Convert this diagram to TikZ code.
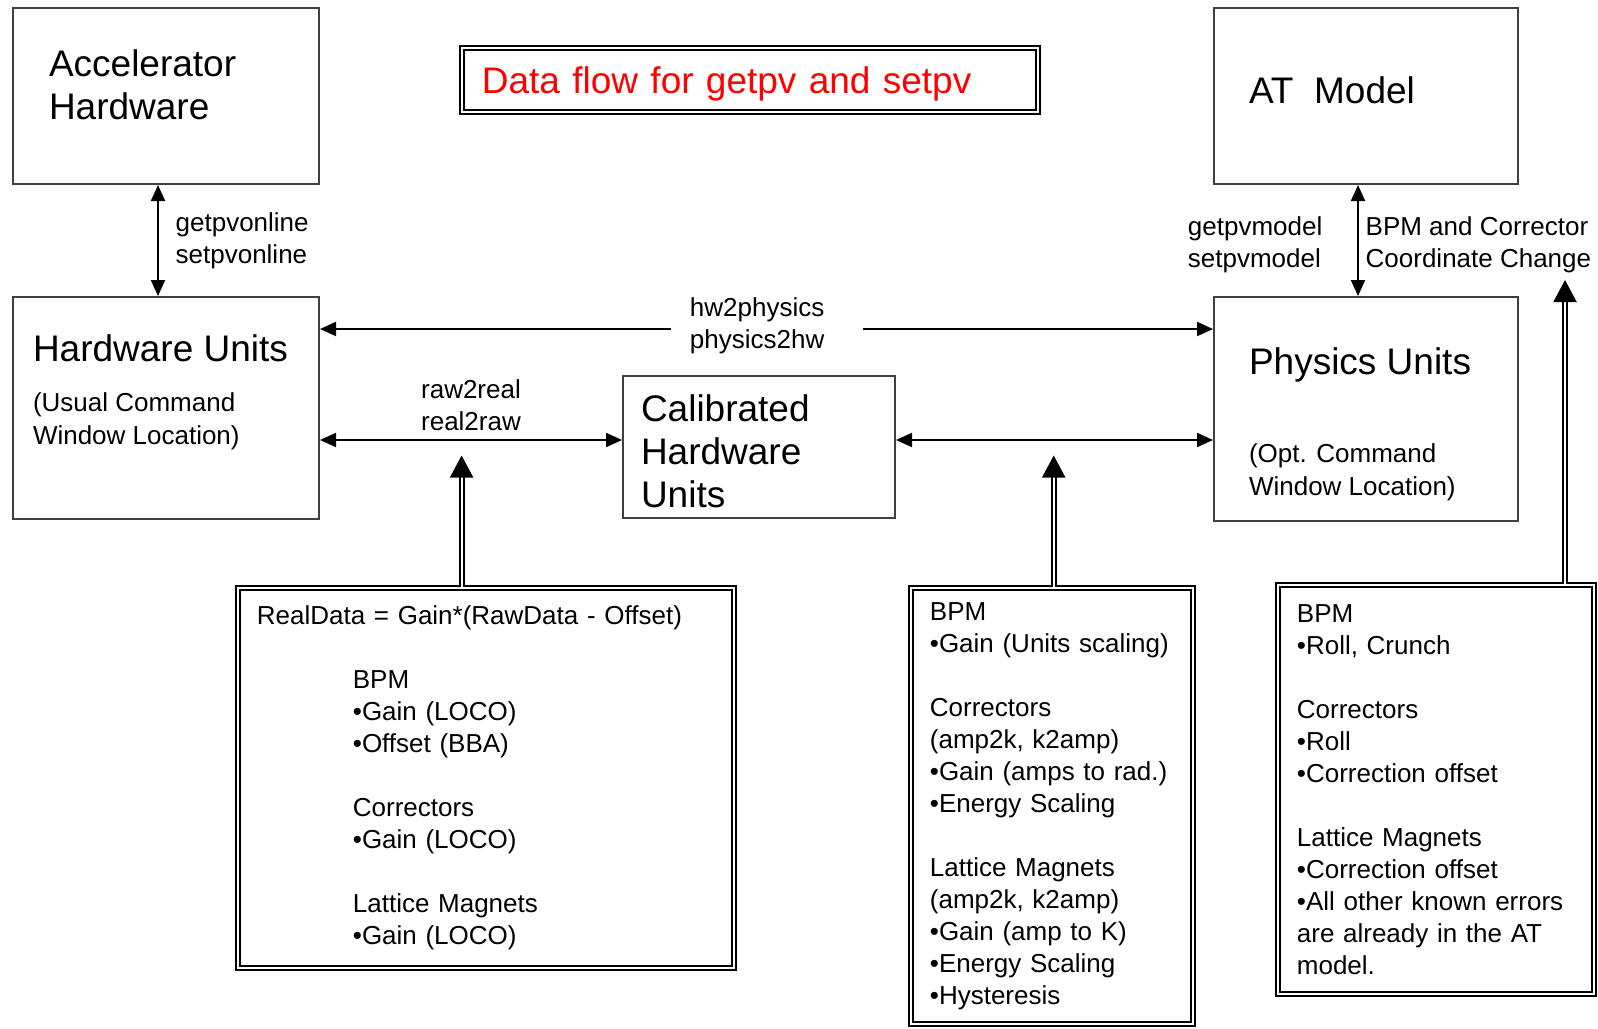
\documentclass[tikz,border=0pt]{standalone}
\usepackage{fontspec}
\setmainfont{Liberation Sans}
\usetikzlibrary{arrows.meta, positioning}

\newcommand{\ind}{\hspace*{48pt}}

\begin{document}
\begin{tikzpicture}[
    x=0.5pt, y=-0.5pt,
    >={Triangle[length=8pt, width=7pt]},
    line width=1pt,
    box/.style={
        draw=black!75,
        anchor=north west,
        inner sep=0pt
    },
    dbox/.style={
        draw,
        double,
        double distance=1.2pt,
        line width=0.9pt,
        anchor=north west,
        align=left,
        inner xsep=9.5pt,
        text width=#1,
        font=\fontsize{13pt}{16pt}\selectfont
    },
    big/.style={
        anchor=north west,
        inner sep=0pt,
        align=left,
        font=\fontsize{18.5pt}{21.5pt}\selectfont
    },
    small/.style={
        anchor=north west,
        inner sep=0pt,
        align=left,
        font=\fontsize{13pt}{16.2pt}\selectfont
    },
    lbl/.style={
        align=left,
        font=\fontsize{13pt}{16pt}\selectfont
    },
    feed/.style={
        double,
        double distance=1pt,
        -{Triangle[length=11pt, width=11.5pt]}
    }
]
\useasboundingbox (0,0) rectangle (1598,1028);

% unit boxes
\node[box, minimum width=153pt, minimum height=88pt] (acc) at (12,7) {};
\node[box, minimum width=153pt, minimum height=111pt] (hwu) at (12,296) {};
\node[box, minimum width=136pt, minimum height=71pt] (cal) at (622,375) {};
\node[box, minimum width=152pt, minimum height=88pt] (atm) at (1213,7) {};
\node[box, minimum width=152pt, minimum height=112pt] (phu) at (1213,296) {};

\node[big, below right=21pt and 18pt of acc.north west] (acctext) {Accelerator\\Hardware};
\node[big, below right=34.5pt and 17.5pt of atm.north west] (atmtext) {AT\ \ Model};
\node[big, below right=18.8pt and 10pt of hwu.north west] (hwutext) {Hardware Units};
\node[small, below right=48pt and 10pt of hwu.north west] (hwunote) {(Usual Command\\Window Location)};
\node[big, below right=9.5pt and 9pt of cal.north west] (caltext) {Calibrated\\Hardware\\Units};
\node[big, below right=25.5pt and 17.5pt of phu.north west] (phutext) {Physics Units};
\node[small, below right=73.5pt and 17.5pt of phu.north west] (phunote) {(Opt. Command\\Window Location)};

% title
\node[dbox=268pt, inner xsep=10pt, minimum width=288pt, minimum height=32pt, text depth=0pt,
      text=red, font=\fontsize{18.5pt}{22pt}\selectfont] (title) at (461,47) {Data flow for getpv and setpv};

% correction boxes
\node[dbox=229pt, minimum width=248pt, minimum height=190pt] (corrL) at (237,587) {
RealData = Gain*(RawData - Offset)\\[16pt]
\ind BPM\\
\ind •Gain (LOCO)\\
\ind •Offset (BBA)\\[16pt]
\ind Correctors\\
\ind •Gain (LOCO)\\[16pt]
\ind Lattice Magnets\\
\ind •Gain (LOCO)
};

\node[dbox=122pt, minimum width=141pt, minimum height=218pt] (corrM) at (910,587) {
BPM\\
•Gain (Units scaling)\\[16pt]
Correctors\\
(amp2k, k2amp)\\
•Gain (amps to rad.)\\
•Energy Scaling\\[16pt]
Lattice Magnets\\
(amp2k, k2amp)\\
•Gain (amp to K)\\
•Energy Scaling\\
•Hysteresis
};

\node[dbox=139pt, minimum width=158pt, minimum height=204.5pt] (corrR) at (1277,584) {
BPM\\
•Roll, Crunch\\[16pt]
Correctors\\
•Roll\\
•Correction offset\\[16pt]
Lattice Magnets\\
•Correction offset\\
•All other known errors\\
are already in the AT\\
model.
};

% connectors
\coordinate (hpy) at ([yshift=39.5pt]hwu.east);
\coordinate (rry) at ([yshift=3.5pt]cal.west);
\coordinate (tipL) at (461.6,455.5);
\coordinate (tipM) at (1053.7,455.5);
\coordinate (tipR) at (1565,280);

\draw[<->] ([xshift=-4pt]acc.south) -- node[lbl, right=5pt] (online) {getpvonline\\setpvonline} ([xshift=-4pt]hwu.north);
\draw[<->] ([xshift=-4pt]atm.south) -- node[lbl, left=14pt, yshift=-2pt] (model) {getpvmodel\\setpvmodel}
    node[lbl, right, yshift=-2pt] (coord) {BPM and Corrector\\Coordinate Change} ([xshift=-4pt]phu.north);
\draw[<->] (hpy) -- node[lbl, fill=white, inner xsep=9.7pt, text width=76.6pt, yshift=1.8pt] (hwphys) {hw2physics\\physics2hw} (hpy -| phu.west);
\draw[<->] (rry -| hwu.east) -- node[lbl, above=1pt] (rawreal) {raw2real\\real2raw} (rry -| cal.west);
\draw[<->] (rry -| cal.east) -- (rry -| phu.west);

\draw[feed] (tipL |- corrL.north) -- (tipL);
\draw[feed] (tipM |- corrM.north) -- (tipM);
\draw[feed] (tipR |- corrR.north) -- (tipR);

\end{tikzpicture}
\end{document}
